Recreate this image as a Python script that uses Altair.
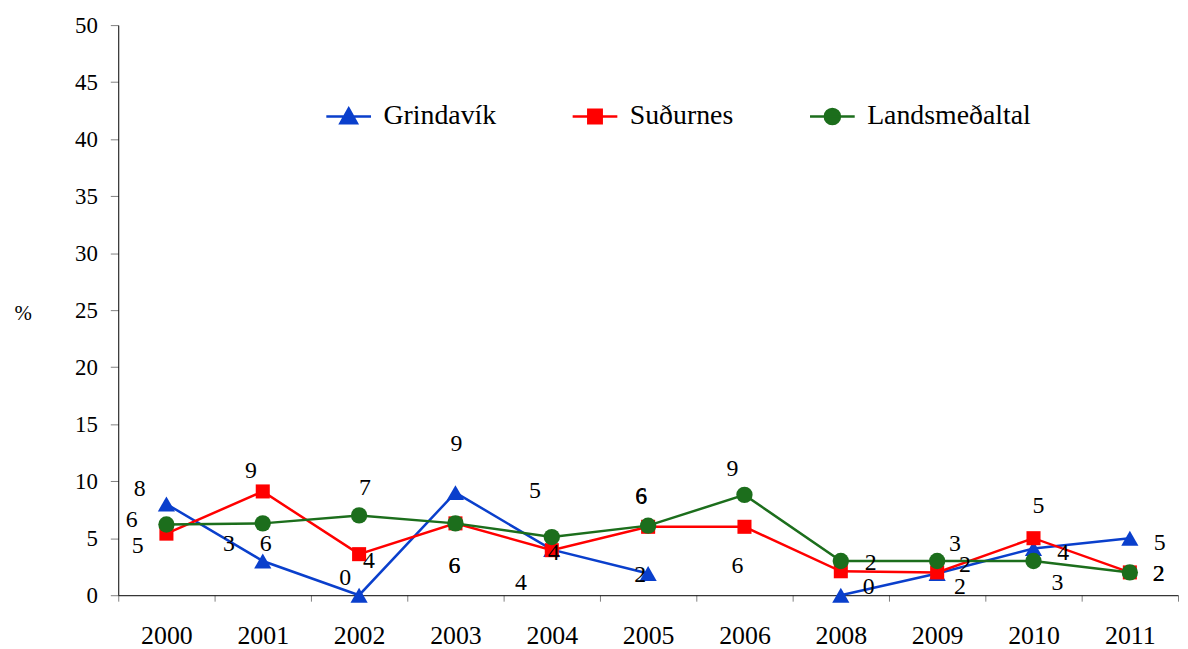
import altair as alt
import pandas as pd

years = ["2000", "2001", "2002", "2003", "2004", "2005", "2006", "2008", "2009", "2010", "2011"]
series_names = ["Grindavík", "Suðurnes", "Landsmeðaltal"]

grindavik = [8.0, 3.0, 0.0, 9.0, 4.0, 1.9, None, 0.0, 1.9, 4.1, 5.0]
sudurnes = [5.4, 9.1, 3.6, 6.3, 3.95, 6.0, 6.0, 2.1, 2.0, 5.0, 2.0]
landsmedaltal = [6.2, 6.3, 7.0, 6.3, 5.1, 6.1, 8.8, 3.0, 3.0, 3.0, 2.0]

grindavik_labels = ["8", "3", "0", "9", "4", "2", None, "0", "2", "4", "5"]
sudurnes_labels = ["5", "9", "4", "6", "4", "6", "6", "2", "2", "5", "2"]
landsmedaltal_labels = ["6", "6", "7", "6", "5", "6", "9", None, "3", "3", "2"]

# label placement (pixel offsets from the point), kept apart from the data
label_offsets = {
    "Grindavík": [(-27, -15), (-34, -17), (-14, -17), (1, -49), (-31, 34), (-8, 2), (0, 0),
                  (28, -8), (23, 14), (30, 5), (30, 5)],
    "Suðurnes": [(-29, 13), (-12, -21), (10, 7), (-1, 43), (2, 3), (-7, -30), (-7, 40),
                 (30, -8), (28, -7), (5, -32), (29, 2)],
    "Landsmeðaltal": [(-35, -4), (3, 21), (6, -28), (-1, 43), (-17, -46), (-7, -30), (-12, -26),
                      (0, 0), (18, -17), (24, 22), (29, 2)],
}

colors = {"Grindavík": "#0A3FCC", "Suðurnes": "#FF0000", "Landsmeðaltal": "#1C6E1C"}
shapes = {"Grindavík": "triangle-up", "Suðurnes": "square", "Landsmeðaltal": "circle"}
sizes = {"Grindavík": 300, "Suðurnes": 200, "Landsmeðaltal": 270}
legend_paths = [
    "M-1,0H1M0,-0.36L0.37,0.3H-0.37Z",
    "M-1,0H1M-0.3,-0.3H0.3V0.3H-0.3Z",
    "M-1,0H1M0.34,0A0.34,0.34 0 1,1 -0.34,0A0.34,0.34 0 1,1 0.34,0Z",
]

W, H = 1067, 574
YMAX = 50
band = W / len(years)
px_per_unit = H / YMAX

values = {"Grindavík": grindavik, "Suðurnes": sudurnes, "Landsmeðaltal": landsmedaltal}
labels = {"Grindavík": grindavik_labels, "Suðurnes": sudurnes_labels,
          "Landsmeðaltal": landsmedaltal_labels}

rows = []
for s in series_names:
    for i, y in enumerate(years):
        dx, dy = label_offsets[s][i]
        v = values[s][i]
        rows.append({"year": y, "series": s, "value": v, "label": labels[s][i],
                     "dx": dx + band / 2,
                     "label_pos": None if v is None else v - dy / px_per_unit})
df = pd.DataFrame(rows)

FONT = "Liberation Serif"

x_enc = alt.X("year:N", sort=years,
              scale=alt.Scale(type="band", paddingInner=0, paddingOuter=0),
              axis=alt.Axis(title=None, labelAngle=0, tickBand="extent", tickSize=6,
                            tickColor="#808080", domainColor="black", labelFontSize=26,
                            labelColor="black", labelPadding=22))
y_scale = alt.Scale(domain=[0, YMAX])
y_enc = alt.Y("value:Q", scale=y_scale,
              axis=alt.Axis(values=list(range(0, 51, 5)), grid=False, title="%",
                            titleAngle=0, titleX=-105, titleY=290, titleAlign="left",
                            titleBaseline="middle", titleFontSize=21,
                            titleFontWeight="normal", titleColor="black",
                            tickSize=8, tickColor="#808080", domainColor="black",
                            labelFontSize=23, labelColor="black", labelPadding=13))

base = alt.Chart(df)
layers = []
for s in series_names:
    sub = base.transform_filter(alt.datum.series == s)
    layers.append(sub.mark_line(color=colors[s], strokeWidth=2.5,
                                invalid="break-paths-filter-domains").encode(x=x_enc, y=y_enc))
    layers.append(sub.transform_filter("isValid(datum.value)").mark_point(
        shape=shapes[s], filled=True, opacity=1, color=colors[s], size=sizes[s]
    ).encode(x=x_enc, y=y_enc))

for s in series_names:
    sub = base.transform_filter(alt.datum.series == s).transform_filter("isValid(datum.label)")
    layers.append(sub.mark_text(fontSize=24, color="black", align="center",
                                baseline="middle").encode(
        x=x_enc,
        y=alt.Y("label_pos:Q", scale=y_scale),
        xOffset=alt.XOffset("dx:Q", scale=None),
        text="label:N"))

legend_props = dict(title=None, orient="none", legendX=208, legendY=68, direction="horizontal",
                    labelFontSize=28, labelColor="black", labelOffset=11, labelLimit=400,
                    columnPadding=71, symbolSize=2025, symbolStrokeWidth=2.5, padding=0)
legend_layer = base.transform_filter("false").mark_point(filled=True, opacity=1).encode(
    fill=alt.Fill("series:N", scale=alt.Scale(domain=series_names,
                                              range=[colors[s] for s in series_names]),
                  legend=alt.Legend(**legend_props)),
    stroke=alt.Stroke("series:N", scale=alt.Scale(domain=series_names,
                                                  range=[colors[s] for s in series_names]),
                      legend=alt.Legend(**legend_props)),
    shape=alt.Shape("series:N", scale=alt.Scale(domain=series_names, range=legend_paths),
                    legend=alt.Legend(**legend_props)),
)
layers.append(legend_layer)

chart = alt.layer(*layers).properties(
    width=W, height=H,
    autosize=alt.AutoSizeParams(type="none"),
    padding={"left": 111, "top": 15, "right": 2, "bottom": 60},
).configure(
    font=FONT, background="white", view=alt.ViewConfig(stroke=None),
    axis=alt.AxisConfig(labelFont=FONT, titleFont=FONT),
    legend=alt.LegendConfig(labelFont=FONT, titleFont=FONT, labelLimit=400),
    text=alt.MarkConfig(font=FONT),
)

chart.save("out.html", embed_options={"renderer": "svg", "actions": False})
